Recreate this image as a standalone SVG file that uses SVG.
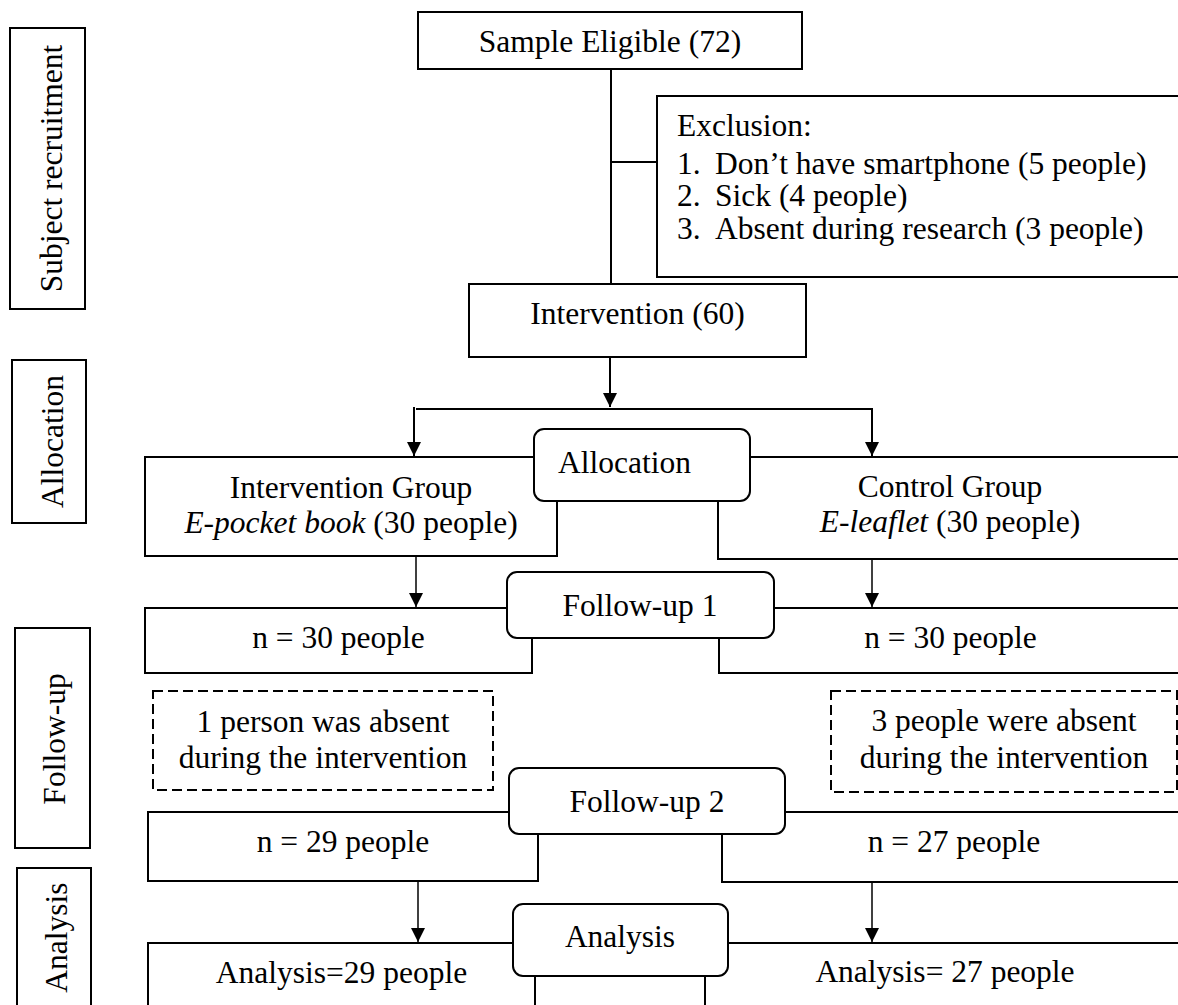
<svg xmlns="http://www.w3.org/2000/svg" width="1178" height="1005" viewBox="0 0 1178 1005">
<defs>
<style>
.t{font-family:"Liberation Serif","Times New Roman",serif;font-size:31.5px;fill:#000}
.m{text-anchor:middle}
.b{fill:#fff;stroke:#000;stroke-width:2}
.d{fill:#fff;stroke:#000;stroke-width:2;stroke-dasharray:10 5}
.c{fill:none;stroke:#000;stroke-width:2}
.c2{fill:none;stroke:#000;stroke-width:1.5}
</style>
<marker id="ah" viewBox="0 0 10 10" refX="10" refY="5" markerWidth="15" markerHeight="14" markerUnits="userSpaceOnUse" orient="auto">
<path d="M0,0 L10,5 L0,10 z" fill="#000"/>
</marker>
</defs>
<rect width="1178" height="1005" fill="#fff"/>

<g id="label-recruitment"><rect class="b" x="10" y="28" width="75" height="281"/><text class="t m" transform="translate(62,168.5) rotate(-90)">Subject recruitment</text></g>
<g id="label-allocation"><rect class="b" x="12" y="360" width="74" height="163"/><text class="t m" transform="translate(63,441.5) rotate(-90)">Allocation</text></g>
<g id="label-followup"><rect class="b" x="15" y="628" width="75" height="220"/><text class="t m" transform="translate(65,739) rotate(-90)">Follow-up</text></g>
<g id="label-analysis"><rect class="b" x="17" y="868" width="74" height="150"/><text class="t m" transform="translate(67,937.5) rotate(-90)">Analysis</text></g>

<g id="connectors">
<path class="c" d="M611,69 V284 M611,162 H657"/>
<path class="c" d="M610,357 V407" marker-end="url(#ah)"/>
<path class="c" d="M416,409 H872 V456" marker-end="url(#ah)"/>
<path class="c" d="M414,407 V456" marker-end="url(#ah)"/>
<path class="c2" d="M416,556 V607" marker-end="url(#ah)"/>
<path class="c2" d="M872,559 V607" marker-end="url(#ah)"/>
<path class="c2" d="M418,881 V942" marker-end="url(#ah)"/>
<path class="c2" d="M872,882 V942" marker-end="url(#ah)"/>
</g>

<g id="sample"><rect class="b" x="418" y="12" width="384" height="57"/><text class="t m" x="610" y="52">Sample Eligible (72)</text></g>
<g id="exclusion"><rect class="b" x="657" y="96" width="540" height="181"/>
<text class="t" x="677" y="136">Exclusion:</text>
<text class="t" x="677" y="174">1.</text><text class="t" x="715" y="174">Don’t have smartphone (5 people)</text>
<text class="t" x="677" y="206">2.</text><text class="t" x="715" y="206">Sick (4 people)</text>
<text class="t" x="677" y="239">3.</text><text class="t" x="715" y="239">Absent during research (3 people)</text>
</g>
<g id="intervention60"><rect class="b" x="469" y="284" width="337" height="73"/><text class="t m" x="637.5" y="324">Intervention (60)</text></g>

<g id="intervention-group"><rect class="b" x="145" y="457" width="412" height="99"/>
<text class="t m" x="351" y="498">Intervention Group</text>
<text class="t m" x="351" y="533"><tspan font-style="italic">E-pocket book</tspan> (30 people)</text></g>
<g id="control-group"><rect class="b" x="718" y="457" width="470" height="102"/>
<text class="t m" x="950" y="497">Control Group</text>
<text class="t m" x="950" y="532"><tspan font-style="italic">E-leaflet</tspan> (30 people)</text></g>
<g id="allocation"><rect class="b" x="534" y="429" width="216" height="72" rx="10"/><text class="t" x="558" y="473">Allocation</text></g>

<g id="n30-left"><rect class="b" x="145" y="608" width="387" height="65"/><text class="t m" x="338.5" y="648">n = 30 people</text></g>
<g id="n30-right"><rect class="b" x="719" y="608" width="470" height="65"/><text class="t m" x="950.5" y="648">n = 30 people</text></g>
<g id="followup1"><rect class="b" x="507" y="572" width="267" height="66" rx="10"/><text class="t m" x="640" y="616">Follow-up 1</text></g>

<g id="absent-left"><rect class="d" x="153" y="691" width="340" height="99"/>
<text class="t m" x="323" y="732">1 person was absent</text>
<text class="t m" x="323" y="768">during the intervention</text></g>
<g id="absent-right"><rect class="d" x="831" y="691" width="346" height="101"/>
<text class="t m" x="1004" y="731">3 people were absent</text>
<text class="t m" x="1004" y="768">during the intervention</text></g>

<g id="n29"><rect class="b" x="148" y="812" width="390" height="69"/><text class="t m" x="343" y="852">n = 29 people</text></g>
<g id="n27"><rect class="b" x="722" y="812" width="467" height="70"/><text class="t m" x="954" y="852">n = 27 people</text></g>
<g id="followup2"><rect class="b" x="509" y="768" width="276" height="66" rx="10"/><text class="t m" x="647" y="812">Follow-up 2</text></g>

<g id="analysis-left"><rect class="b" x="148" y="943" width="387" height="80"/><text class="t m" x="341.5" y="983">Analysis=29 people</text></g>
<g id="analysis-right"><rect class="b" x="705" y="943" width="484" height="80"/><text class="t m" x="945" y="982">Analysis= 27 people</text></g>
<g id="analysis"><rect class="b" x="513" y="904" width="215" height="72" rx="10"/><text class="t m" x="620" y="947">Analysis</text></g>
</svg>
